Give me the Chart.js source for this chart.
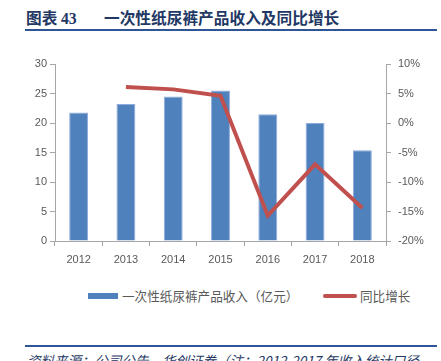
<!DOCTYPE html>
<html>
<head>
<meta charset="utf-8">
<script src="https://cdn.jsdelivr.net/npm/chart.js@4"></script>
<style>
  body { margin: 0; width: 441px; height: 361px; overflow: hidden; background: #fff; position: relative; font-family: "Noto Sans CJK SC", sans-serif; }
  .title { position: absolute; top: 6px; font-size: 15.7px; font-weight: bold; color: #1f3864; white-space: nowrap; }
  .rule { position: absolute; left: 25px; width: 412px; height: 2px; background: #2f5597; }
  .foot { position: absolute; left: 27px; top: 350px; font-size: 13.5px; font-style: italic; color: #1f3864; white-space: nowrap; }
  #wrap { position: absolute; left: 0; top: 40px; width: 441px; height: 230px; }
  .lg { position: absolute; top: 287px; font-size: 12.6px; color: #595959; white-space: nowrap; line-height: 18px; }
  .sw { position: absolute; }
</style>
</head>
<body>
<div class="title" style="left:26px">图表 <span style="font-family:'Liberation Serif'">43</span></div>
<div class="title" style="left:104px">一次性纸尿裤产品收入及同比增长</div>
<div class="rule" style="top:29px"></div>
<div id="wrap"><canvas id="c"></canvas></div>
<div id="legend"></div>
<div class="rule" style="top:345px"></div>
<div class="foot">资料来源：公司公告，华创证券（注：2012-2017 年收入统计口径</div>
<script>
const years = ['2012', '2013', '2014', '2015', '2016', '2017', '2018'];
const revenue = [21.8, 23.2, 24.5, 25.5, 21.5, 20.0, 15.4];
const growth = [null, 6.1, 5.7, 4.6, -15.7, -7.0, -14.4];

const tickFont = { family: 'Liberation Sans', size: 11 };
const grey = '#595959';
const axisGrey = '#a6a6a6';

const chart = new Chart(document.getElementById('c'), {
  data: {
    labels: years,
    datasets: [
      {
        type: 'line', label: '同比增长', data: growth, yAxisID: 'y1',
        borderColor: '#c0504d', backgroundColor: '#c0504d', borderWidth: 4,
        pointRadius: 0, tension: 0, order: 0
      },
      {
        type: 'bar', label: '一次性纸尿裤产品收入（亿元）', data: revenue, yAxisID: 'y',
        backgroundColor: '#4f81bd', borderColor: '#8faadc', borderWidth: 1,
        categoryPercentage: 1, barPercentage: 0.4, order: 1
      }
    ]
  },
  options: {
    responsive: true, maintainAspectRatio: false, animation: false,
    layout: { padding: { top: 24, left: 0, right: 0, bottom: 0 } },
    plugins: { tooltip: { enabled: false }, legend: { display: false } },
    scales: {
      x: {
        grid: { display: true, drawOnChartArea: false, tickLength: 5, color: axisGrey, offset: true },
        border: { color: axisGrey },
        ticks: { color: grey, font: tickFont, padding: 7 },
        afterFit: s => { s.height = 29; }
      },
      y: {
        position: 'left', min: 0, max: 30,
        ticks: { stepSize: 5, color: grey, font: tickFont, padding: 3 },
        grid: { drawOnChartArea: false, tickLength: 5, color: axisGrey },
        border: { color: axisGrey },
        afterFit: s => { s.width = 55; }
      },
      y1: {
        position: 'right', min: -20, max: 10,
        ticks: { stepSize: 5, color: grey, font: tickFont, padding: 7, callback: v => v + '%' },
        grid: { drawOnChartArea: false, tickLength: 5, color: axisGrey },
        border: { color: axisGrey },
        afterFit: s => { s.width = 55; }
      }
    }
  }
});

// legend built from the datasets
const bar = chart.data.datasets[1], line = chart.data.datasets[0];
document.getElementById('legend').innerHTML =
  `<div class="sw" style="left:88px;top:293px;width:30px;height:6px;background:${bar.backgroundColor}"></div>` +
  `<div class="lg" style="left:122px">${bar.label}</div>` +
  `<div class="sw" style="left:323px;top:294px;width:34px;height:4px;border-radius:2px;background:${line.borderColor}"></div>` +
  `<div class="lg" style="left:360px">${line.label}</div>`;
</script>
</body>
</html>
